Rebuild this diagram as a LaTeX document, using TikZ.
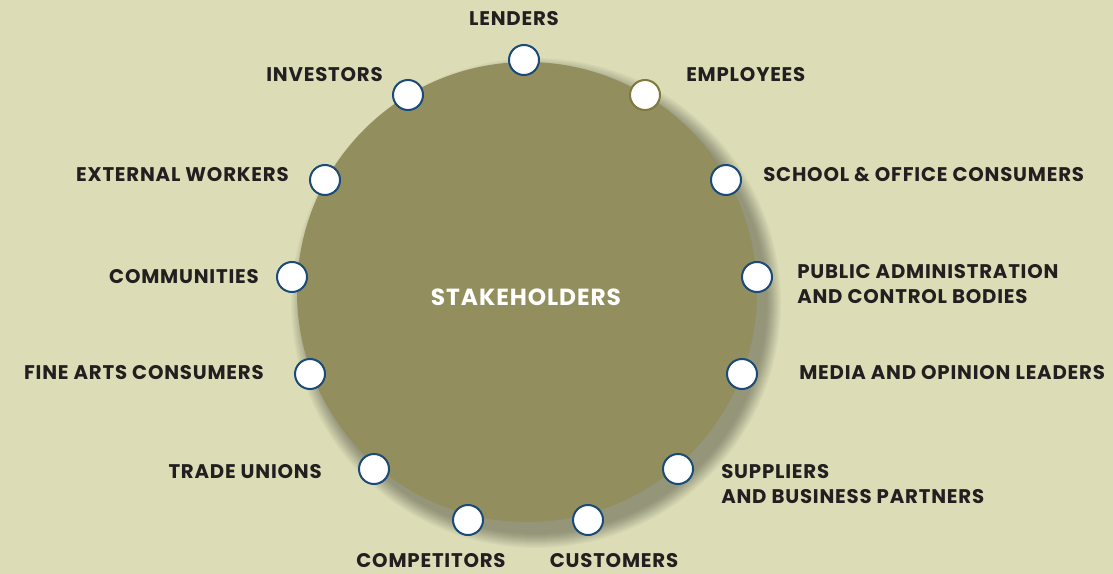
\documentclass[tikz,border=0pt]{standalone}
\usepackage{fontspec}
\setmainfont[LetterSpace=4]{Poppins}
\usepackage{xcolor}
\definecolor{stakebg}{HTML}{DCDDB7}
\definecolor{stakeolive}{HTML}{928E5E}
\definecolor{stakeblue}{HTML}{1A4A78}
\definecolor{stakegold}{HTML}{7F7A3C}
\definecolor{stakeink}{HTML}{231F20}
\usetikzlibrary{positioning}

\begin{document}
\begin{tikzpicture}[
    x=0.75pt, y=-0.75pt,
    dot/.style={circle, draw=stakeblue, line width=1.5pt, fill=white, minimum size=22.5pt, inner sep=0pt},
    tag/.style={font=\fontsize{14.8}{18.8}\selectfont\bfseries, text=stakeink, inner sep=0pt, align=left},
]

% Background and frame
\fill[stakebg] (0,0) rectangle (1113,574);
\useasboundingbox (0,0) rectangle (1113,574);

% Soft shadow
\foreach \i in {0,...,14}
    \fill[black, opacity=0.022] (536,303) circle ({231+\i});

% Main disc
\node[circle, fill=stakeolive, minimum size=345pt, inner sep=0pt] (hub) at (527,292) {};
\node[font=\fontsize{17.5}{20}\selectfont\bfseries, text=white] (title) at (526,297) {STAKEHOLDERS};

% Stakeholder dots
\node[dot] (lenders) at (524,60) {};
\node[dot, draw=stakegold] (employees) at (645,95) {};
\node[dot] (school) at (726,180) {};
\node[dot] (public) at (757,277) {};
\node[dot] (media) at (742,374) {};
\node[dot] (suppliers) at (678,469) {};
\node[dot] (customers) at (588,520) {};
\node[dot] (competitors) at (468,520) {};
\node[dot] (unions) at (374,469) {};
\node[dot] (finearts) at (310,374) {};
\node[dot] (communities) at (292,277) {};
\node[dot] (external) at (325,180) {};
\node[dot] (investors) at (408,95) {};

% Labels
\node[tag] (lenders-l) at (514,19) {LENDERS};
\node[tag, anchor=west] (employees-l) at (686,75) {EMPLOYEES};
\node[tag, anchor=west] (school-l) at (763,175) {SCHOOL \& OFFICE CONSUMERS};
\node[tag, anchor=west] (public-l) at (797,284) {PUBLIC ADMINISTRATION\\AND CONTROL BODIES};
\node[tag, anchor=west] (media-l) at (799,373) {MEDIA AND OPINION LEADERS};
\node[tag, anchor=west] (suppliers-l) at (721,484) {SUPPLIERS\\AND BUSINESS PARTNERS};
\node[tag] (customers-l) at (614,561) {CUSTOMERS};
\node[tag] (competitors-l) at (431,561) {COMPETITORS};
\node[tag, anchor=east] (unions-l) at (322,472) {TRADE UNIONS};
\node[tag, anchor=east] (finearts-l) at (264,373) {FINE ARTS CONSUMERS};
\node[tag, anchor=east] (communities-l) at (259,277) {COMMUNITIES};
\node[tag, anchor=east] (external-l) at (289,175) {EXTERNAL WORKERS};
\node[tag, anchor=east] (investors-l) at (383,75) {INVESTORS};

\end{tikzpicture}
\end{document}
